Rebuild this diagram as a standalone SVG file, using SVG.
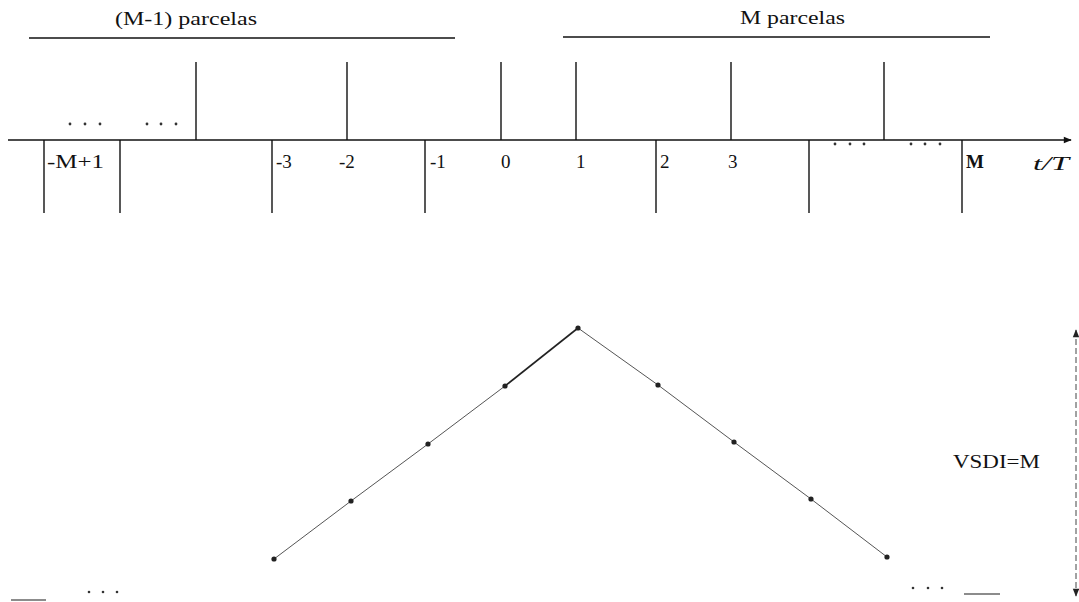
<svg xmlns="http://www.w3.org/2000/svg" width="1079" height="602" viewBox="0 0 1079 602">
<style>
.ax{stroke:#111;stroke-width:1.5;fill:none}
.tk{stroke:#111;stroke-width:1.4;fill:none}
.lb{font-size:19px;fill:#111}
.dl{stroke:#555;stroke-width:1;fill:none}
.pt{fill:#222}
.gd{fill:#333}
</style>
<defs>
<marker id="ah" viewBox="0 0 10 10" refX="9" refY="5" markerWidth="10" markerHeight="8" markerUnits="userSpaceOnUse" orient="auto">
<path d="M0,1 L10,5 L0,9 z" fill="#111"/>
</marker>
<marker id="ahv" viewBox="0 0 10 10" refX="9" refY="5" markerWidth="12" markerHeight="8" markerUnits="userSpaceOnUse" orient="auto-start-reverse">
<path d="M0,1 L10,5 L0,9 z" fill="#222"/>
</marker>
</defs>
<g font-family="'Liberation Serif', 'DejaVu Serif', serif">
<g id="headers">
<text class="lb" x="115" y="25" textLength="142" lengthAdjust="spacingAndGlyphs">(M-1) parcelas</text>
<line class="tk" x1="29" y1="38" x2="455" y2="38"/>
<text class="lb" x="740" y="24" textLength="105" lengthAdjust="spacingAndGlyphs">M parcelas</text>
<line class="tk" x1="563" y1="37" x2="990" y2="37"/>
</g>
<g id="connectors">
<line class="ax" x1="8" y1="140" x2="1071" y2="140" marker-end="url(#ah)"/>
<g id="up-ticks">
<line class="tk" x1="196" y1="62" x2="196" y2="140"/>
<line class="tk" x1="347" y1="62" x2="347" y2="140"/>
<line class="tk" x1="501" y1="62" x2="501" y2="140"/>
<line class="tk" x1="576" y1="62" x2="576" y2="140"/>
<line class="tk" x1="731" y1="62" x2="731" y2="140"/>
<line class="tk" x1="884" y1="62" x2="884" y2="140"/>
</g>
<g id="down-ticks">
<line class="tk" x1="44" y1="140" x2="44" y2="213"/>
<line class="tk" x1="120" y1="140" x2="120" y2="213"/>
<line class="tk" x1="272" y1="140" x2="272" y2="213"/>
<line class="tk" x1="425" y1="140" x2="425" y2="213"/>
<line class="tk" x1="656" y1="140" x2="656" y2="213"/>
<line class="tk" x1="809" y1="140" x2="809" y2="213"/>
<line class="tk" x1="962" y1="140" x2="962" y2="213"/>
</g>
<line x1="1076" y1="330" x2="1076" y2="596" stroke="#444" stroke-width="1" stroke-dasharray="6,3" marker-start="url(#ahv)" marker-end="url(#ahv)"/>
</g>
<g id="axis-labels">
<text class="lb" x="47" y="168" textLength="57" lengthAdjust="spacingAndGlyphs">-M+1</text>
<text class="lb" x="276" y="168">-3</text>
<text class="lb" x="339" y="168">-2</text>
<text class="lb" x="430" y="168">-1</text>
<text class="lb" x="501" y="168">0</text>
<text class="lb" x="576" y="168">1</text>
<text class="lb" x="660" y="168">2</text>
<text class="lb" x="728" y="168">3</text>
<text class="lb" x="966" y="168" font-weight="bold">M</text>
<text class="lb" x="1033" y="170" font-style="italic" font-size="20" textLength="36" lengthAdjust="spacingAndGlyphs">t/T</text>
</g>
<g id="ellipses">
<circle class="gd" cx="70" cy="124" r="1.4"/><circle class="gd" cx="85" cy="124" r="1.4"/><circle class="gd" cx="100" cy="124" r="1.4"/>
<circle class="gd" cx="147" cy="124" r="1.4"/><circle class="gd" cx="161" cy="124" r="1.4"/><circle class="gd" cx="176" cy="124" r="1.4"/>
<circle class="gd" cx="835" cy="144" r="1.4"/><circle class="gd" cx="850" cy="144" r="1.4"/><circle class="gd" cx="864" cy="144" r="1.4"/>
<circle class="gd" cx="911" cy="144" r="1.4"/><circle class="gd" cx="925" cy="144" r="1.4"/><circle class="gd" cx="940" cy="144" r="1.4"/>
<circle class="gd" cx="89" cy="592" r="1.3"/><circle class="gd" cx="103" cy="592" r="1.3"/><circle class="gd" cx="117" cy="592" r="1.3"/>
<circle class="gd" cx="913" cy="588" r="1.3"/><circle class="gd" cx="928" cy="588" r="1.3"/><circle class="gd" cx="942" cy="588" r="1.3"/>
<line x1="11" y1="600" x2="46" y2="600" stroke="#666" stroke-width="1.6"/>
<line x1="964" y1="594" x2="1000" y2="594" stroke="#666" stroke-width="1.6"/>
</g>
<g id="triangle">
<polyline class="dl" points="274,559 351,501 428,444 505,386"/>
<polyline points="505,386 578,328" stroke="#222" stroke-width="1.6" fill="none"/>
<polyline class="dl" points="578,328 658,385 734,442 811,499 887,557"/>
<circle class="pt" cx="274" cy="559" r="2.6"/>
<circle class="pt" cx="351" cy="501" r="2.6"/>
<circle class="pt" cx="428" cy="444" r="2.6"/>
<circle class="pt" cx="505" cy="386" r="2.6"/>
<circle class="pt" cx="578" cy="328" r="2.6"/>
<circle class="pt" cx="658" cy="385" r="2.6"/>
<circle class="pt" cx="734" cy="442" r="2.6"/>
<circle class="pt" cx="811" cy="499" r="2.6"/>
<circle class="pt" cx="887" cy="557" r="2.6"/>
</g>
<g id="vsdi">
<text class="lb" x="953" y="468" textLength="87" lengthAdjust="spacingAndGlyphs">VSDI=M</text>
</g>
</g>
</svg>
